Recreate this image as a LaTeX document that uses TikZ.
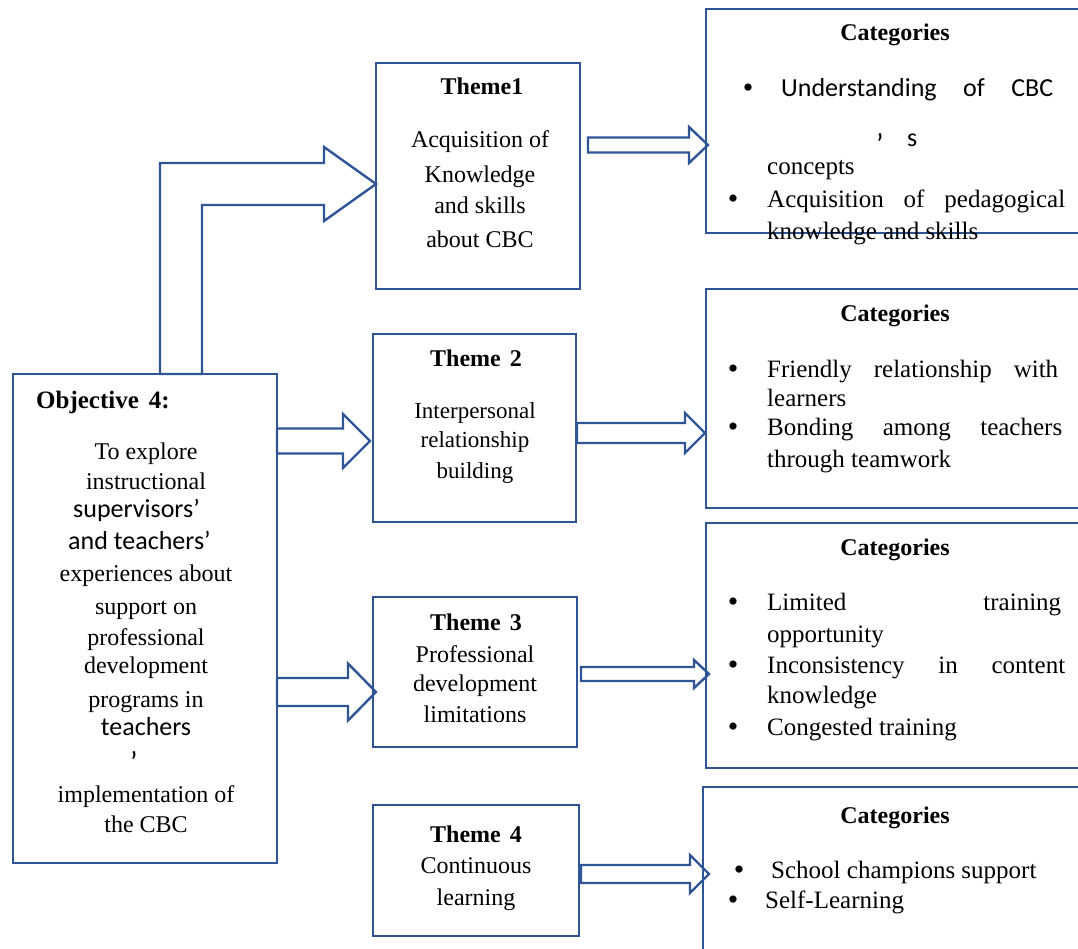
\documentclass[tikz,border=0pt]{standalone}
\usepackage{fontspec}
\setmainfont{Liberation Serif}
\newfontfamily\sansf{Carlito}
\usetikzlibrary{calc}
\definecolor{frame}{RGB}{47,85,151}
\tikzset{
  boxframe/.style={draw=frame, line width=2.4pt, rectangle, inner sep=0pt, outer sep=0pt, anchor=north west},
  arrowline/.style={draw=frame, line width=2.4pt, line join=miter},
  body/.style={inner sep=0pt, anchor=base, font=\fontsize{24}{28}\selectfont},
  bodyl/.style={body, anchor=base west},
  title/.style={inner sep=0pt, anchor=base, font=\bfseries\fontsize{24}{28}\selectfont},
  sans/.style={inner sep=0pt, anchor=base west, font=\sansf\fontsize{25}{28}\selectfont},
  item/.style={inner sep=0pt, anchor=base west, font=\fontsize{25}{28}\selectfont},
  dot/.style={inner sep=0pt, anchor=base, font=\fontsize{30}{28}\selectfont},
}
% straight block arrow: from, to, centre y, shaft half, head half, head length, start gap, tip gap
\newcommand\blockarrow[8]{%
  \draw[arrowline] let \p1=(#1.east), \p2=(#2.west) in
    ({\x1+#7pt},{-(#3-#4)*1pt}) -- ({\x2+#8pt-#6pt},{-(#3-#4)*1pt})
    -- ({\x2+#8pt-#6pt},{-(#3-#5)*1pt}) -- ({\x2+#8pt},{-#3pt})
    -- ({\x2+#8pt-#6pt},{-(#3+#5)*1pt}) -- ({\x2+#8pt-#6pt},{-(#3+#4)*1pt})
    -- ({\x1+#7pt},{-(#3+#4)*1pt}) -- cycle;}
\begin{document}
\begin{tikzpicture}[x=1pt, y=-1pt]
\useasboundingbox (0,0) rectangle (1078,949);
\clip (0,0) rectangle (1078,949);

% frames
\node[boxframe, minimum width=264pt, minimum height=489pt] (obj) at (13,374) {};
\node[boxframe, minimum width=204pt, minimum height=226pt] (t1) at (376,63) {};
\node[boxframe, minimum width=203pt, minimum height=188pt] (t2) at (373,334) {};
\node[boxframe, minimum width=204pt, minimum height=150pt] (t3) at (373,597) {};
\node[boxframe, minimum width=206pt, minimum height=131pt] (t4) at (373,805) {};
\node[boxframe, minimum width=384pt, minimum height=224pt] (c1) at (706,9) {};
\node[boxframe, minimum width=384pt, minimum height=219pt] (c2) at (706,289) {};
\node[boxframe, minimum width=384pt, minimum height=245pt] (c3) at (706,523) {};
\node[boxframe, minimum width=387pt, minimum height=180pt] (c4) at (703,787) {};

% elbow arrow from the objective up to theme 1
\draw[arrowline] let \p1=(obj.north), \p2=(t1.west) in
  ({\x1+15pt},\y1) -- ({\x1+15pt},-163pt) -- ({\x2-52pt},-163pt) -- ({\x2-52pt},-147pt)
  -- (\x2,-184pt) -- ({\x2-52pt},-221pt) -- ({\x2-52pt},-205pt) -- ({\x1+57pt},-205pt)
  -- ({\x1+57pt},\y1) -- cycle;

% straight block arrows
\blockarrow{obj}{t2}{441}{12.5}{27}{27}{0}{-3}
\blockarrow{obj}{t3}{692}{14}{28.5}{28}{0}{3}
\blockarrow{t1}{c1}{145}{7.5}{18}{19}{8}{2}
\blockarrow{t2}{c2}{433}{10}{20}{20}{1}{-1}
\blockarrow{t3}{c3}{674}{7}{14}{15}{4}{3}
\blockarrow{t4}{c4}{874}{9}{19}{19}{2}{6}

% objective text
\node[title, anchor=base west, font=\bfseries\fontsize{25}{28}\selectfont] (objhead) at (36,408) {Objective\hspace{10pt}4:};
\node[body] (o1) at (146,459) {To explore};
\node[body] (o2) at (146,489) {instructional};
\node[sans, font=\sansf\fontsize{26}{28}\selectfont] (o3) at (73,517) {supervisors’};
\node[sans, font=\sansf\fontsize{26}{28}\selectfont] (o4) at (68,549) {and\hspace{6pt}teachers’};
\node[body] (o5) at (146,581) {experiences about};
\node[body] (o6) at (146,614) {support on};
\node[body] (o7) at (146,645) {professional};
\node[body] (o8) at (146,673) {development};
\node[body] (o9) at (146,707) {programs in};
\node[sans, anchor=base, font=\sansf\fontsize{26}{28}\selectfont] (o10) at (146,735) {teachers};
\node[sans, font=\sansf\fontsize{30}{28}\selectfont] (o11) at (130,772) {’};
\node[body] (o12) at (146,802) {implementation of};
\node[body] (o13) at (146,832) {the CBC};

% theme texts
\node[title] (t1h) at (482,95) {Theme1};
\node[body] (t1a) at (480,148) {Acquisition of};
\node[body] (t1b) at (480,183) {Knowledge};
\node[body] (t1c) at (480,214) {and skills};
\node[body] (t1d) at (480,248) {about CBC};

\node[title] (t2h) at (476,366) {Theme\hspace{9pt}2};
\node[body, font=\fontsize{23}{28}\selectfont] (t2a) at (475,418) {Interpersonal};
\node[body, font=\fontsize{23}{28}\selectfont] (t2b) at (475,447) {relationship};
\node[body, font=\fontsize{23}{28}\selectfont] (t2c) at (475,478) {building};

\node[title] (t3h) at (476,630) {Theme\hspace{9pt}3};
\node[body] (t3a) at (475,662) {Professional};
\node[body] (t3b) at (475,691) {development};
\node[body] (t3c) at (475,722) {limitations};

\node[title] (t4h) at (476,842) {Theme\hspace{9pt}4};
\node[body] (t4a) at (476,873) {Continuous};
\node[body] (t4b) at (476,905) {learning};

% category texts
\node[title] (c1h) at (895,41) {Categories};
\node[dot] (c1d1) at (748,98) {•};
\node[sans, font=\sansf\fontsize{26}{28}\selectfont] (c1a) at (781,97) {\makebox[272pt][s]{Understanding of CBC}};
\node[sans, font=\sansf\fontsize{30}{28}\selectfont] (c1b) at (876,155) {’};
\node[sans, font=\sansf\fontsize{26}{28}\selectfont] (c1c) at (907,147) {s};
\node[item] (c1e) at (767,175) {concepts};
\node[dot] (c1d2) at (733,209) {•};
\node[item] (c1f) at (767,208) {\makebox[298pt][s]{Acquisition of pedagogical}};
\node[item] (c1g) at (767,240) {knowledge and skills};

\node[title] (c2h) at (895,321) {Categories};
\node[dot] (c2d1) at (733,378) {•};
\node[item] (c2a) at (767,377) {\makebox[291pt][s]{Friendly relationship with}};
\node[item] (c2b) at (767,406) {learners};
\node[dot] (c2d2) at (733,436) {•};
\node[item] (c2c) at (767,435) {\makebox[295pt][s]{Bonding among teachers}};
\node[item] (c2e) at (767,467) {through teamwork};

\node[title] (c3h) at (895,555) {Categories};
\node[dot] (c3d1) at (733,611) {•};
\node[item] (c3a) at (767,610) {\makebox[294pt][s]{Limited training}};
\node[item] (c3b) at (767,642) {opportunity};
\node[dot] (c3d2) at (733,674) {•};
\node[item] (c3c) at (767,673) {\makebox[298pt][s]{Inconsistency in content}};
\node[item] (c3e) at (767,703) {knowledge};
\node[dot] (c3d3) at (733,736) {•};
\node[item] (c3f) at (767,735) {Congested training};

\node[title] (c4h) at (895,823) {Categories};
\node[dot] (c4d1) at (739,879) {•};
\node[item] (c4a) at (771,878) {School champions support};
\node[dot] (c4d2) at (733,909) {•};
\node[item] (c4b) at (765,908) {Self-Learning};
\end{tikzpicture}
\end{document}
